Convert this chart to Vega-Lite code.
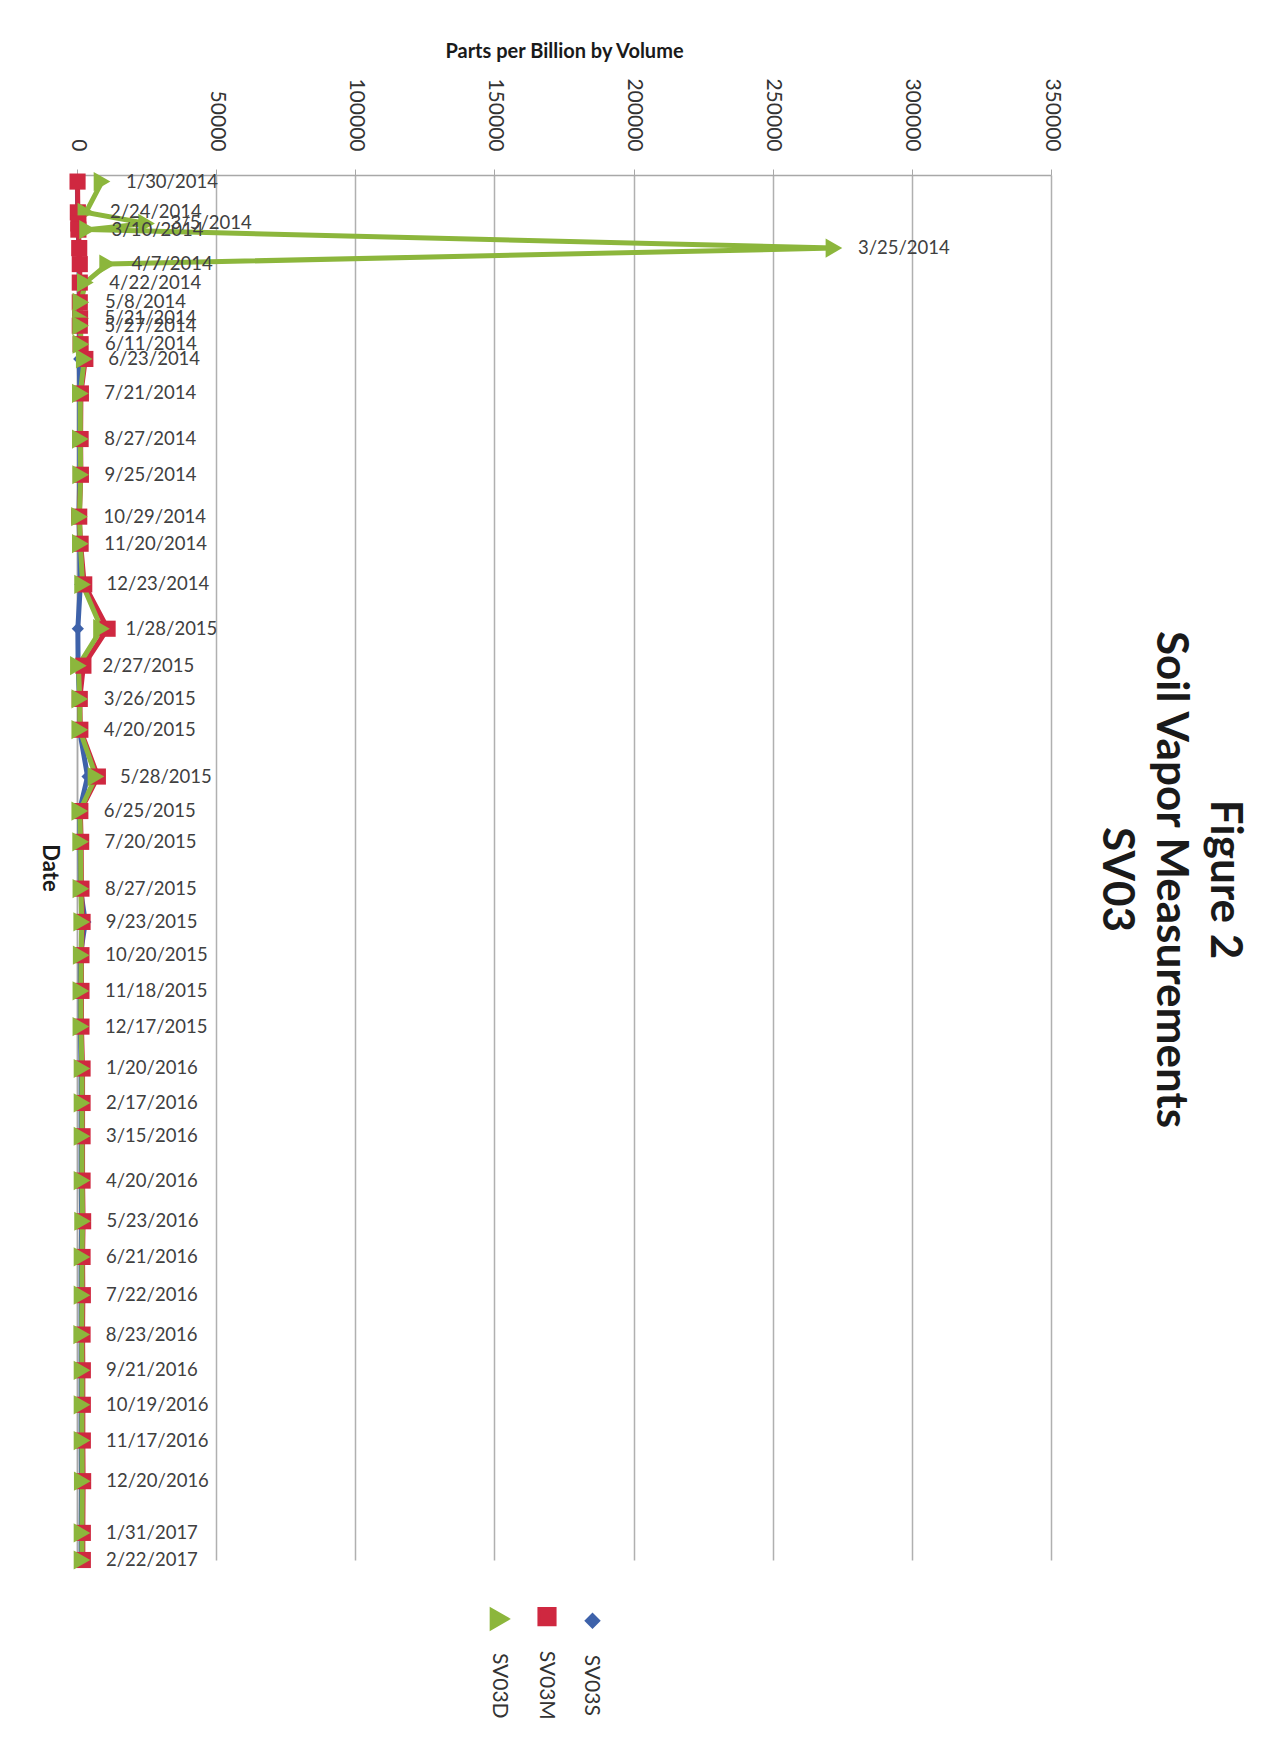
{
  "$schema": "https://vega.github.io/schema/vega-lite/v6.json",
  "width": 974,
  "height": 1385,
  "autosize": {"type": "none"},
  "padding": {"left": 77, "top": 175, "right": 224, "bottom": 194},
  "background": "white",
  "title": {
    "text": ["Figure 2", "Soil Vapor Measurements", "SV03"],
    "orient": "right",
    "anchor": "middle",
    "frame": "group",
    "font": "Lato",
    "fontSize": 44,
    "fontWeight": "bold",
    "lineHeight": 54,
    "color": "#1a1a1a",
    "offset": 32,
    "dx": 12
  },
  "config": {"view": {"stroke": null}},
  "data": {
    "format": {"parse": {"date": "date:'%m/%d/%Y'"}},
    "values": [
      {"date": "1/30/2014", "SV03S": 150, "SV03M": 200, "SV03D": 9000},
      {"date": "2/24/2014", "SV03S": 200, "SV03M": 300, "SV03D": 3200},
      {"date": "3/5/2014", "SV03S": 400, "SV03M": 500, "SV03D": 25000},
      {"date": "3/10/2014", "SV03S": 400, "SV03M": 500, "SV03D": 3800},
      {"date": "3/25/2014", "SV03S": 700, "SV03M": 800, "SV03D": 272000},
      {"date": "4/7/2014", "SV03S": 800, "SV03M": 1000, "SV03D": 11000},
      {"date": "4/22/2014", "SV03S": 800, "SV03M": 1000, "SV03D": 3000},
      {"date": "5/8/2014", "SV03S": 900, "SV03M": 1000, "SV03D": 1400},
      {"date": "5/21/2014", "SV03S": 900, "SV03M": 1100, "SV03D": 1300},
      {"date": "5/27/2014", "SV03S": 900, "SV03M": 1000, "SV03D": 1300},
      {"date": "6/11/2014", "SV03S": 1000, "SV03M": 1300, "SV03D": 1400},
      {"date": "6/23/2014", "SV03S": 800, "SV03M": 3000, "SV03D": 2600},
      {"date": "7/21/2014", "SV03S": 1000, "SV03M": 1400, "SV03D": 1200},
      {"date": "8/27/2014", "SV03S": 1000, "SV03M": 1300, "SV03D": 1200},
      {"date": "9/25/2014", "SV03S": 1000, "SV03M": 1400, "SV03D": 1300},
      {"date": "10/29/2014", "SV03S": 700, "SV03M": 800, "SV03D": 900},
      {"date": "11/20/2014", "SV03S": 1000, "SV03M": 1300, "SV03D": 1200},
      {"date": "12/23/2014", "SV03S": 1200, "SV03M": 2600, "SV03D": 2000},
      {"date": "1/28/2015", "SV03S": 300, "SV03M": 11000, "SV03D": 8800},
      {"date": "2/27/2015", "SV03S": 400, "SV03M": 2300, "SV03D": 500},
      {"date": "3/26/2015", "SV03S": 900, "SV03M": 1000, "SV03D": 1000},
      {"date": "4/20/2015", "SV03S": 900, "SV03M": 1200, "SV03D": 1000},
      {"date": "5/28/2015", "SV03S": 3800, "SV03M": 7500, "SV03D": 6800},
      {"date": "6/25/2015", "SV03S": 900, "SV03M": 1200, "SV03D": 1000},
      {"date": "7/20/2015", "SV03S": 1100, "SV03M": 1500, "SV03D": 1300},
      {"date": "8/27/2015", "SV03S": 1200, "SV03M": 1600, "SV03D": 1400},
      {"date": "9/23/2015", "SV03S": 3000, "SV03M": 2000, "SV03D": 1700},
      {"date": "10/20/2015", "SV03S": 1200, "SV03M": 1600, "SV03D": 1500},
      {"date": "11/18/2015", "SV03S": 1200, "SV03M": 1600, "SV03D": 1400},
      {"date": "12/17/2015", "SV03S": 1200, "SV03M": 1600, "SV03D": 1400},
      {"date": "1/20/2016", "SV03S": 1500, "SV03M": 2000, "SV03D": 1800},
      {"date": "2/17/2016", "SV03S": 1500, "SV03M": 2000, "SV03D": 1800},
      {"date": "3/15/2016", "SV03S": 1500, "SV03M": 2000, "SV03D": 1800},
      {"date": "4/20/2016", "SV03S": 1500, "SV03M": 2000, "SV03D": 1800},
      {"date": "5/23/2016", "SV03S": 1700, "SV03M": 2200, "SV03D": 2000},
      {"date": "6/21/2016", "SV03S": 1500, "SV03M": 2000, "SV03D": 1800},
      {"date": "7/22/2016", "SV03S": 1500, "SV03M": 2100, "SV03D": 1800},
      {"date": "8/23/2016", "SV03S": 1500, "SV03M": 2000, "SV03D": 1700},
      {"date": "9/21/2016", "SV03S": 1500, "SV03M": 2100, "SV03D": 1800},
      {"date": "10/19/2016", "SV03S": 1500, "SV03M": 2100, "SV03D": 1800},
      {"date": "11/17/2016", "SV03S": 1500, "SV03M": 2100, "SV03D": 1800},
      {"date": "12/20/2016", "SV03S": 1600, "SV03M": 2200, "SV03D": 1900},
      {"date": "1/31/2017", "SV03S": 1500, "SV03M": 2100, "SV03D": 1800},
      {"date": "2/22/2017", "SV03S": 1500, "SV03M": 2100, "SV03D": 1800}
    ]
  },
  "encoding": {
    "y": {
      "field": "date",
      "type": "temporal",
      "scale": {
        "domain": [{"year": 2014, "month": 1, "date": 24, "hours": 16}, {"year": 2017, "month": 2, "date": 22}],
        "reverse": true
      },
      "axis": {
        "orient": "left",
        "title": "Date",
        "titleAngle": 90,
        "titleFont": "Lato",
        "titleFontSize": 22,
        "titleFontWeight": "bold",
        "titleColor": "#1a1a1a",
        "titlePadding": 40,
        "labels": false,
        "ticks": false,
        "grid": false,
        "domain": true,
        "domainColor": "#a8a8a8",
        "domainWidth": 1.5
      }
    }
  },
  "layer": [
    {
      "transform": [{"fold": ["SV03S", "SV03M", "SV03D"], "as": ["series", "ppbv"]}],
      "mark": {"type": "line", "strokeWidth": 5},
      "encoding": {
        "x": {
          "field": "ppbv",
          "type": "quantitative",
          "scale": {"domain": [0, 350000], "nice": false},
          "axis": {
            "orient": "top",
            "title": "Parts per Billion by Volume",
            "titleFont": "Lato",
            "titleFontSize": 20,
            "titleFontWeight": "bold",
            "titleColor": "#1a1a1a",
            "titlePadding": 16,
            "values": [0, 50000, 100000, 150000, 200000, 250000, 300000, 350000],
            "format": "d",
            "labelAngle": 90,
            "labelAlign": "right",
            "labelBaseline": "middle",
            "labelFont": "Lato",
            "labelFontSize": 21,
            "labelColor": "#333333",
            "labelPadding": 18,
            "tickSize": 6,
            "tickColor": "#a8a8a8",
            "domainColor": "#a8a8a8",
            "domainWidth": 1.5,
            "grid": true,
            "gridColor": "#b0b0b0",
            "gridWidth": 1.5
          }
        },
        "order": {"field": "date", "type": "temporal"},
        "color": {
          "field": "series",
          "type": "nominal",
          "scale": {"domain": ["SV03S", "SV03M", "SV03D"], "range": ["#3e62aa", "#cf2840", "#8cb63c"]},
          "legend": {
            "orient": "none",
            "legendX": 411,
            "legendY": 1431,
            "direction": "horizontal",
            "title": null,
            "values": ["SV03D", "SV03M", "SV03S"],
            "labelFont": "Lato",
            "labelFontSize": 21,
            "labelColor": "#333333",
            "symbolSize": 250,
            "columnPadding": 18.5,
            "encoding": {
              "labels": {"angle": {"value": 90}, "dx": {"value": 34}, "dy": {"value": 16}},
              "symbols": {
                "shape": {"signal": "datum.value === 'SV03D' ? 'M0,-3.2V3.2M-0.9,-0.8L0.9,0L-0.9,0.8Z' : datum.value === 'SV03M' ? 'M0,-3.2V3.2M-0.9,-0.9H0.9V0.9H-0.9Z' : 'M0,-3.2V3.2M-0.8,0L0,-0.8L0.8,0L0,0.8Z'"},
                "stroke": {"signal": "scale('color', datum.value)"},
                "strokeWidth": {"value": 3}
              }
            }
          }
        }
      }
    },
    {
      "transform": [{"fold": ["SV03S", "SV03M", "SV03D"], "as": ["series", "ppbv"]}],
      "mark": {"type": "point", "filled": true, "opacity": 1},
      "encoding": {
        "x": {"field": "ppbv", "type": "quantitative"},
        "color": {"field": "series", "type": "nominal"},
        "shape": {
          "field": "series",
          "type": "nominal",
          "scale": {"domain": ["SV03S", "SV03M", "SV03D"], "range": ["diamond", "square", "triangle-right"]}
        },
        "size": {
          "field": "series",
          "type": "ordinal",
          "scale": {"domain": ["SV03S", "SV03M", "SV03D"], "range": [150, 370, 300]},
          "legend": null
        }
      }
    },
    {
      "mark": {"type": "text", "align": "left", "baseline": "middle", "dx": 24, "font": "Lato", "fontSize": 18.5, "color": "#404040"},
      "encoding": {
        "x": {"field": "SV03D", "type": "quantitative"},
        "text": {"field": "date", "type": "temporal", "format": "%-m/%-d/%Y"}
      }
    }
  ]
}
